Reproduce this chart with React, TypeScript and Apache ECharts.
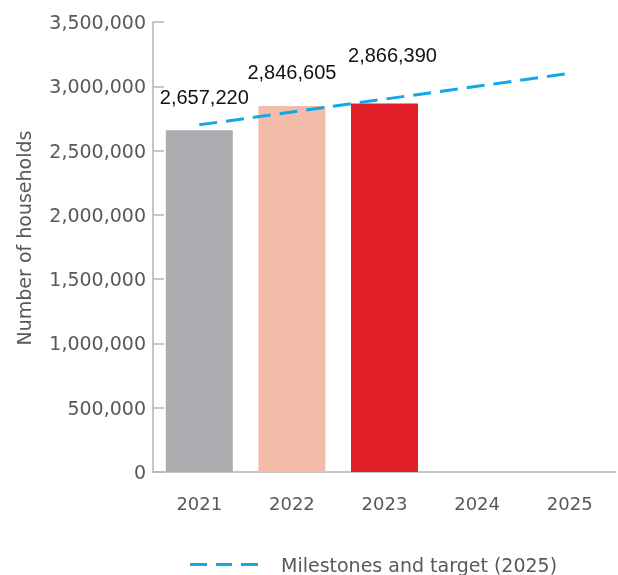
import React, { useEffect, useRef } from "react";
import * as echarts from "echarts";

const years = ["2021", "2022", "2023", "2024", "2025"];
const households = [2657220, 2846605, 2866390, 0, 0];
const milestones = [2700000, 2800000, 2900000, 3000000, 3100000];
const barColors = ["#abacb0", "#f3bca8", "#e21f28", "#abacb0", "#abacb0"];
const yTicks = { min: 0, max: 3500000, interval: 500000 };
const seriesNames = { bars: "Households", line: "Milestones and target (2025)" };
const axisName = "Number of households";

const fmt = (v: number) => v.toLocaleString("en-US");

export default function App() {
  const ref = useRef<HTMLDivElement>(null);
  useEffect(() => {
    if (!ref.current) return;
    const chart = echarts.init(ref.current, null, { renderer: "svg" });
    const grayFont = "DejaVu Sans";
    const labelFont = "Liberation Sans";
    const blue = "#12a8e8";
    const barLabelOffsets = [
      [5, -18],
      [0, -19],
      [8, -33],
    ];
    chart.setOption({
      animation: false,
      grid: { left: 153, right: 2, top: 22, bottom: 103, containLabel: false },
      legend: {
        left: 185,
        top: 550,
        itemWidth: 68,
        itemHeight: 3,
        data: [
          {
            name: seriesNames.line,
            icon: "path://M0,0h17v3h-17z M26,0h16v3h-16z M51,0h17v3h-17z",
            itemStyle: { color: blue },
          },
        ],
        textStyle: {
          fontFamily: grayFont,
          fontSize: 19,
          color: "#58595b",
          padding: [0, 0, 0, 18],
        },
      },
      xAxis: {
        type: "category",
        data: years,
        axisLine: { lineStyle: { color: "#b5b5b5", width: 1.5 } },
        axisTick: {
          inside: true,
          length: 10,
          alignWithLabel: false,
          interval: 0,
          lineStyle: { color: "#b5b5b5", width: 1.5 },
        },
        axisLabel: {
          fontFamily: grayFont,
          fontSize: 18,
          color: "#58595b",
          margin: 22,
        },
      },
      yAxis: {
        type: "value",
        min: yTicks.min,
        max: yTicks.max,
        interval: yTicks.interval,
        splitLine: { show: false },
        axisLine: { show: true, lineStyle: { color: "#b5b5b5", width: 1.5 } },
        axisTick: {
          show: true,
          inside: true,
          length: 11,
          lineStyle: { color: "#b5b5b5", width: 1.5 },
        },
        axisLabel: {
          fontFamily: grayFont,
          fontSize: 19,
          color: "#58595b",
          margin: 7,
          formatter: (v: number) => fmt(v),
        },
      },
      graphic: [
        {
          type: "text",
          x: 24,
          y: 238,
          rotation: Math.PI / 2,
          style: {
            text: axisName,
            fontFamily: grayFont,
            fontSize: 19,
            fill: "#58595b",
            align: "center",
            verticalAlign: "middle",
          },
        },
      ],
      series: [
        {
          name: seriesNames.bars,
          type: "bar",
          barWidth: 67,
          data: households.map((v, i) => ({
            value: v,
            itemStyle: { color: barColors[i] },
            label:
              i < 3
                ? {
                    show: true,
                    position: "top",
                    distance: 5,
                    offset: barLabelOffsets[i],
                    formatter: () => fmt(v),
                    fontFamily: labelFont,
                    fontSize: 20,
                    color: "#111111",
                  }
                : { show: false },
          })),
        },
        {
          name: seriesNames.line,
          type: "line",
          symbol: "none",
          showSymbol: false,
          data: milestones.map((v, i) => ({
            value: v,
            label:
              i === milestones.length - 1
                ? {
                    show: true,
                    position: "top",
                    distance: 5,
                    offset: [-5, -12],
                    formatter: () => fmt(v),
                    fontFamily: labelFont,
                    fontSize: 20,
                    color: "#111111",
                  }
                : { show: false },
          })),
          lineStyle: { color: blue, width: 3, type: [18, 9] },
          itemStyle: { color: blue },
          z: 5,
        },
      ],
    });
    return () => chart.dispose();
  }, []);
  return (
    <div
      ref={ref}
      style={{ position: "fixed", left: 0, top: 0, width: 618, height: 575 }}
    />
  );
}
